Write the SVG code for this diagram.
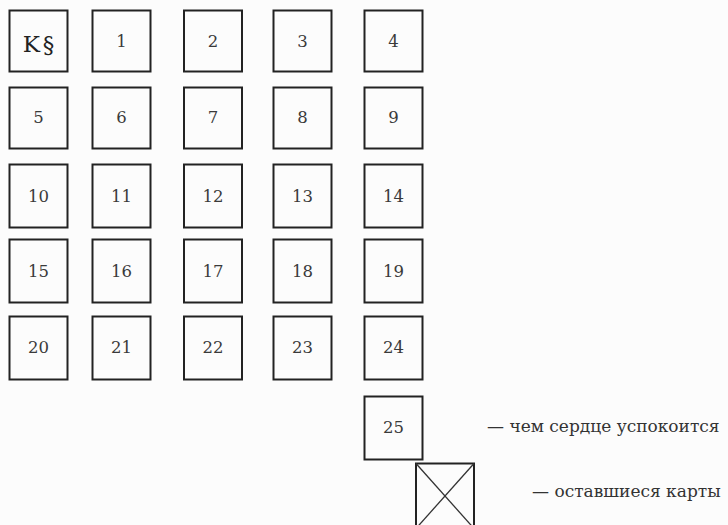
<svg xmlns="http://www.w3.org/2000/svg" width="728" height="525" viewBox="0 0 728 525">
<style>
.b{fill:none;stroke:#222;stroke-width:2}
.x{stroke:#333;stroke-width:1.3}
.t{font-family:"DejaVu Serif","Liberation Serif",serif;font-size:16.5px;fill:#3a3a3a;text-anchor:middle;dominant-baseline:central}
.k{font-size:23px;fill:#222;letter-spacing:3px}
.l{font-family:"DejaVu Serif","Liberation Serif",serif;font-size:17px;fill:#333}
</style>
<rect width="728" height="525" fill="#fcfcfc"/>
<g id="n0"><rect class="b" x="9.5" y="10.5" width="58" height="61"/><text class="t k" x="40" y="44">K§</text></g>
<g id="n1"><rect class="b" x="92.5" y="10.5" width="58" height="61"/><text class="t" x="121.5" y="41">1</text></g>
<g id="n2"><rect class="b" x="184" y="10.5" width="58" height="61"/><text class="t" x="213" y="41">2</text></g>
<g id="n3"><rect class="b" x="273.5" y="10.5" width="58" height="61"/><text class="t" x="302.5" y="41">3</text></g>
<g id="n4"><rect class="b" x="364.5" y="10.5" width="58" height="61"/><text class="t" x="393.5" y="41">4</text></g>
<g id="n5"><rect class="b" x="9.5" y="87.5" width="58" height="61"/><text class="t" x="38.5" y="117">5</text></g>
<g id="n6"><rect class="b" x="92.5" y="87.5" width="58" height="61"/><text class="t" x="121.5" y="117">6</text></g>
<g id="n7"><rect class="b" x="184" y="87.5" width="58" height="61"/><text class="t" x="213" y="117">7</text></g>
<g id="n8"><rect class="b" x="273.5" y="87.5" width="58" height="61"/><text class="t" x="302.5" y="117">8</text></g>
<g id="n9"><rect class="b" x="364.5" y="87.5" width="58" height="61"/><text class="t" x="393.5" y="117">9</text></g>
<g id="n10"><rect class="b" x="9.5" y="164.5" width="58" height="63"/><text class="t" x="38.5" y="196">10</text></g>
<g id="n11"><rect class="b" x="92.5" y="164.5" width="58" height="63"/><text class="t" x="121.5" y="196">11</text></g>
<g id="n12"><rect class="b" x="184" y="164.5" width="58" height="63"/><text class="t" x="213" y="196">12</text></g>
<g id="n13"><rect class="b" x="273.5" y="164.5" width="58" height="63"/><text class="t" x="302.5" y="196">13</text></g>
<g id="n14"><rect class="b" x="364.5" y="164.5" width="58" height="63"/><text class="t" x="393.5" y="196">14</text></g>
<g id="n15"><rect class="b" x="9.5" y="239.5" width="58" height="63"/><text class="t" x="38.5" y="271">15</text></g>
<g id="n16"><rect class="b" x="92.5" y="239.5" width="58" height="63"/><text class="t" x="121.5" y="271">16</text></g>
<g id="n17"><rect class="b" x="184" y="239.5" width="58" height="63"/><text class="t" x="213" y="271">17</text></g>
<g id="n18"><rect class="b" x="273.5" y="239.5" width="58" height="63"/><text class="t" x="302.5" y="271">18</text></g>
<g id="n19"><rect class="b" x="364.5" y="239.5" width="58" height="63"/><text class="t" x="393.5" y="271">19</text></g>
<g id="n20"><rect class="b" x="9.5" y="316.5" width="58" height="63"/><text class="t" x="38.5" y="347">20</text></g>
<g id="n21"><rect class="b" x="92.5" y="316.5" width="58" height="63"/><text class="t" x="121.5" y="347">21</text></g>
<g id="n22"><rect class="b" x="184" y="316.5" width="58" height="63"/><text class="t" x="213" y="347">22</text></g>
<g id="n23"><rect class="b" x="273.5" y="316.5" width="58" height="63"/><text class="t" x="302.5" y="347">23</text></g>
<g id="n24"><rect class="b" x="364.5" y="316.5" width="58" height="63"/><text class="t" x="393.5" y="347">24</text></g>
<g id="n25"><rect class="b" x="364.5" y="396.5" width="58" height="63"/><text class="t" x="393.5" y="427">25</text></g>
<g id="rest"><rect class="b" x="416" y="463.5" width="58" height="65"/><line class="x" x1="416" y1="463.5" x2="474" y2="528.5"/><line class="x" x1="474" y1="463.5" x2="416" y2="528.5"/></g>
<g id="legend">
<text class="l" x="487" y="432">— чем сердце успокоится</text>
<text class="l" x="532" y="497">— оставшиеся карты</text>
</g>
<g id="connectors"/>
</svg>
